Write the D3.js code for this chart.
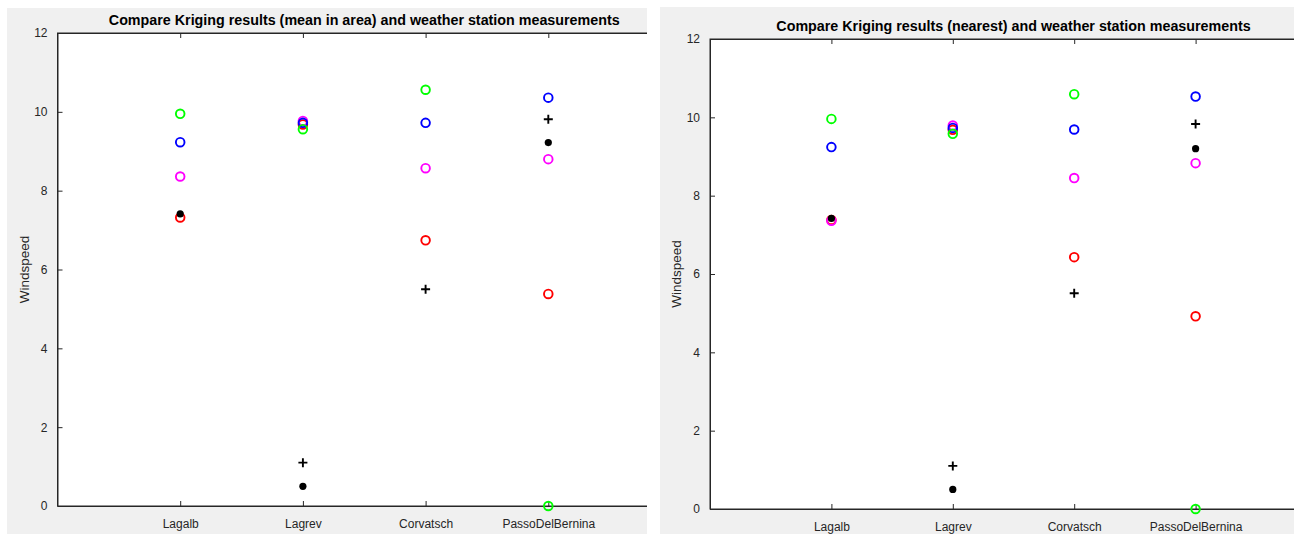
<!DOCTYPE html>
<html>
<head>
<meta charset="utf-8">
<script src="https://cdn.jsdelivr.net/npm/d3@7"></script>
<style>
  body { margin: 0; background: #fff; }
  svg { display: block; font-family: "Liberation Sans", Arial, Helvetica, sans-serif; }
</style>
</head>
<body>
<svg id="chart" width="1294" height="534"></svg>
<script>
var stations = ["Lagalb", "Lagrev", "Corvatsch", "PassoDelBernina"],
    yTicks = [0, 2, 4, 6, 8, 10, 12];

// left panel: kriging mean in area
var meanRed     = [7.32, 9.68, 6.74, 5.38],
    meanMagenta = [8.36, 9.77, 8.57, 8.80],
    meanBlue    = [9.23, 9.72, 9.72, 10.36],
    meanGreen   = [9.95, 9.56, 10.56, 0],
    meanDot     = [7.41, 0.50, null, 9.22],
    meanPlus    = [null, 1.10, 5.50, 9.81];

// right panel: kriging nearest
var nearRed     = [7.38, 9.68, 6.43, 4.92],
    nearMagenta = [7.36, 9.79, 8.45, 8.83],
    nearBlue    = [9.24, 9.73, 9.69, 10.53],
    nearGreen   = [9.96, 9.58, 10.59, 0],
    nearDot     = [7.42, 0.50, null, 9.20],
    nearPlus    = [null, 1.10, 5.51, 9.83];

var panels = [
  {
    title: "Compare Kriging results (mean in area) and weather station measurements",
    bg: [7, 8, 640, 526],
    x0: 57.5, unit: 122.7, top: 33, bottom: 506,
    series: [[meanRed, "#ff0000"], [meanMagenta, "#ff00ff"], [meanBlue, "#0000ff"], [meanGreen, "#00ff00"]],
    dots: meanDot, plus: meanPlus
  },
  {
    title: "Compare Kriging results (nearest) and weather station measurements",
    bg: [660, 7, 634, 527],
    x0: 710, unit: 121.4, top: 39, bottom: 509,
    series: [[nearRed, "#ff0000"], [nearMagenta, "#ff00ff"], [nearBlue, "#0000ff"], [nearGreen, "#00ff00"]],
    dots: nearDot, plus: nearPlus
  }
];

var svg = d3.select("#chart");
var axisColor = "#262626";

function points(arr) {
  return arr.map(function(v, k) { return {k: k + 1, v: v}; })
            .filter(function(d) { return d.v != null; });
}

panels.forEach(function(p, i) {
  var clipId = "clip" + i;
  svg.append("clipPath").attr("id", clipId)
    .append("rect")
    .attr("x", p.bg[0]).attr("y", p.bg[1])
    .attr("width", p.bg[2]).attr("height", p.bg[3]);

  var g = svg.append("g").attr("clip-path", "url(#" + clipId + ")");

  g.append("rect")
    .attr("x", p.bg[0]).attr("y", p.bg[1])
    .attr("width", p.bg[2]).attr("height", p.bg[3])
    .attr("fill", "#f0f0f0");

  var x = d3.scaleLinear().domain([0, 5]).range([p.x0, p.x0 + 5 * p.unit]);
  var y = d3.scaleLinear().domain([0, 12]).range([p.bottom, p.top]);

  // axes box
  g.append("rect")
    .attr("x", x(0)).attr("y", y(12))
    .attr("width", x(5) - x(0)).attr("height", y(0) - y(12))
    .attr("fill", "#fff")
    .attr("stroke", axisColor)
    .attr("stroke-width", 1);

  // ticks, MATLAB style (inside)
  var xAxis = d3.axisBottom(x).tickValues([1, 2, 3, 4])
    .tickFormat(function(d) { return stations[d - 1]; })
    .tickSizeInner(-5).tickSizeOuter(0).tickPadding(13);
  var gx = g.append("g").attr("transform", "translate(0," + y(0) + ")").call(xAxis);

  var xTop = d3.axisTop(x).tickValues([1, 2, 3, 4]).tickFormat("")
    .tickSizeInner(-5).tickSizeOuter(0);
  var gxt = g.append("g").attr("transform", "translate(0," + y(12) + ")").call(xTop);

  var yAxis = d3.axisLeft(y).tickValues(yTicks)
    .tickSizeInner(-5).tickSizeOuter(0).tickPadding(10);
  var gy = g.append("g").attr("transform", "translate(" + x(0) + ",0)").call(yAxis);

  [gx, gxt, gy].forEach(function(a) {
    a.select(".domain").attr("stroke", axisColor);
    a.selectAll(".tick line").attr("stroke", axisColor);
    a.selectAll(".tick text")
      .attr("fill", axisColor)
      .style("font-size", "12px")
      .style("font-family", "'Liberation Sans', Arial, sans-serif");
  });

  // title
  g.append("text")
    .attr("x", (x(0) + x(5)) / 2)
    .attr("y", y(12) - 8)
    .attr("text-anchor", "middle")
    .attr("fill", "#000")
    .style("font-weight", "bold")
    .style("font-size", "14.3px")
    .text(p.title);

  // y label
  g.append("text")
    .attr("transform", "translate(" + (x(0) - 29) + "," + ((y(0) + y(12)) / 2) + ") rotate(-90)")
    .attr("text-anchor", "middle")
    .attr("fill", axisColor)
    .style("font-size", "13.5px")
    .text("Windspeed");

  // open circles
  p.series.forEach(function(s) {
    g.append("g").selectAll("circle")
      .data(points(s[0]))
      .enter().append("circle")
      .attr("cx", function(d) { return x(d.k); })
      .attr("cy", function(d) { return y(d.v); })
      .attr("r", 4.3)
      .attr("fill", "none")
      .attr("stroke", s[1])
      .attr("stroke-width", 1.9);
  });

  // filled black dots
  g.append("g").selectAll("circle")
    .data(points(p.dots))
    .enter().append("circle")
    .attr("cx", function(d) { return x(d.k); })
    .attr("cy", function(d) { return y(d.v); })
    .attr("r", 3.6)
    .attr("fill", "#000");

  // plus markers
  g.append("g").selectAll("path")
    .data(points(p.plus))
    .enter().append("path")
    .attr("d", function(d) {
      var cx = x(d.k), cy = y(d.v), h = 4.5;
      return "M" + (cx - h) + "," + cy + "H" + (cx + h) + "M" + cx + "," + (cy - h) + "V" + (cy + h);
    })
    .attr("stroke", "#000")
    .attr("stroke-width", 1.9)
    .attr("fill", "none");
});
</script>
</body>
</html>
